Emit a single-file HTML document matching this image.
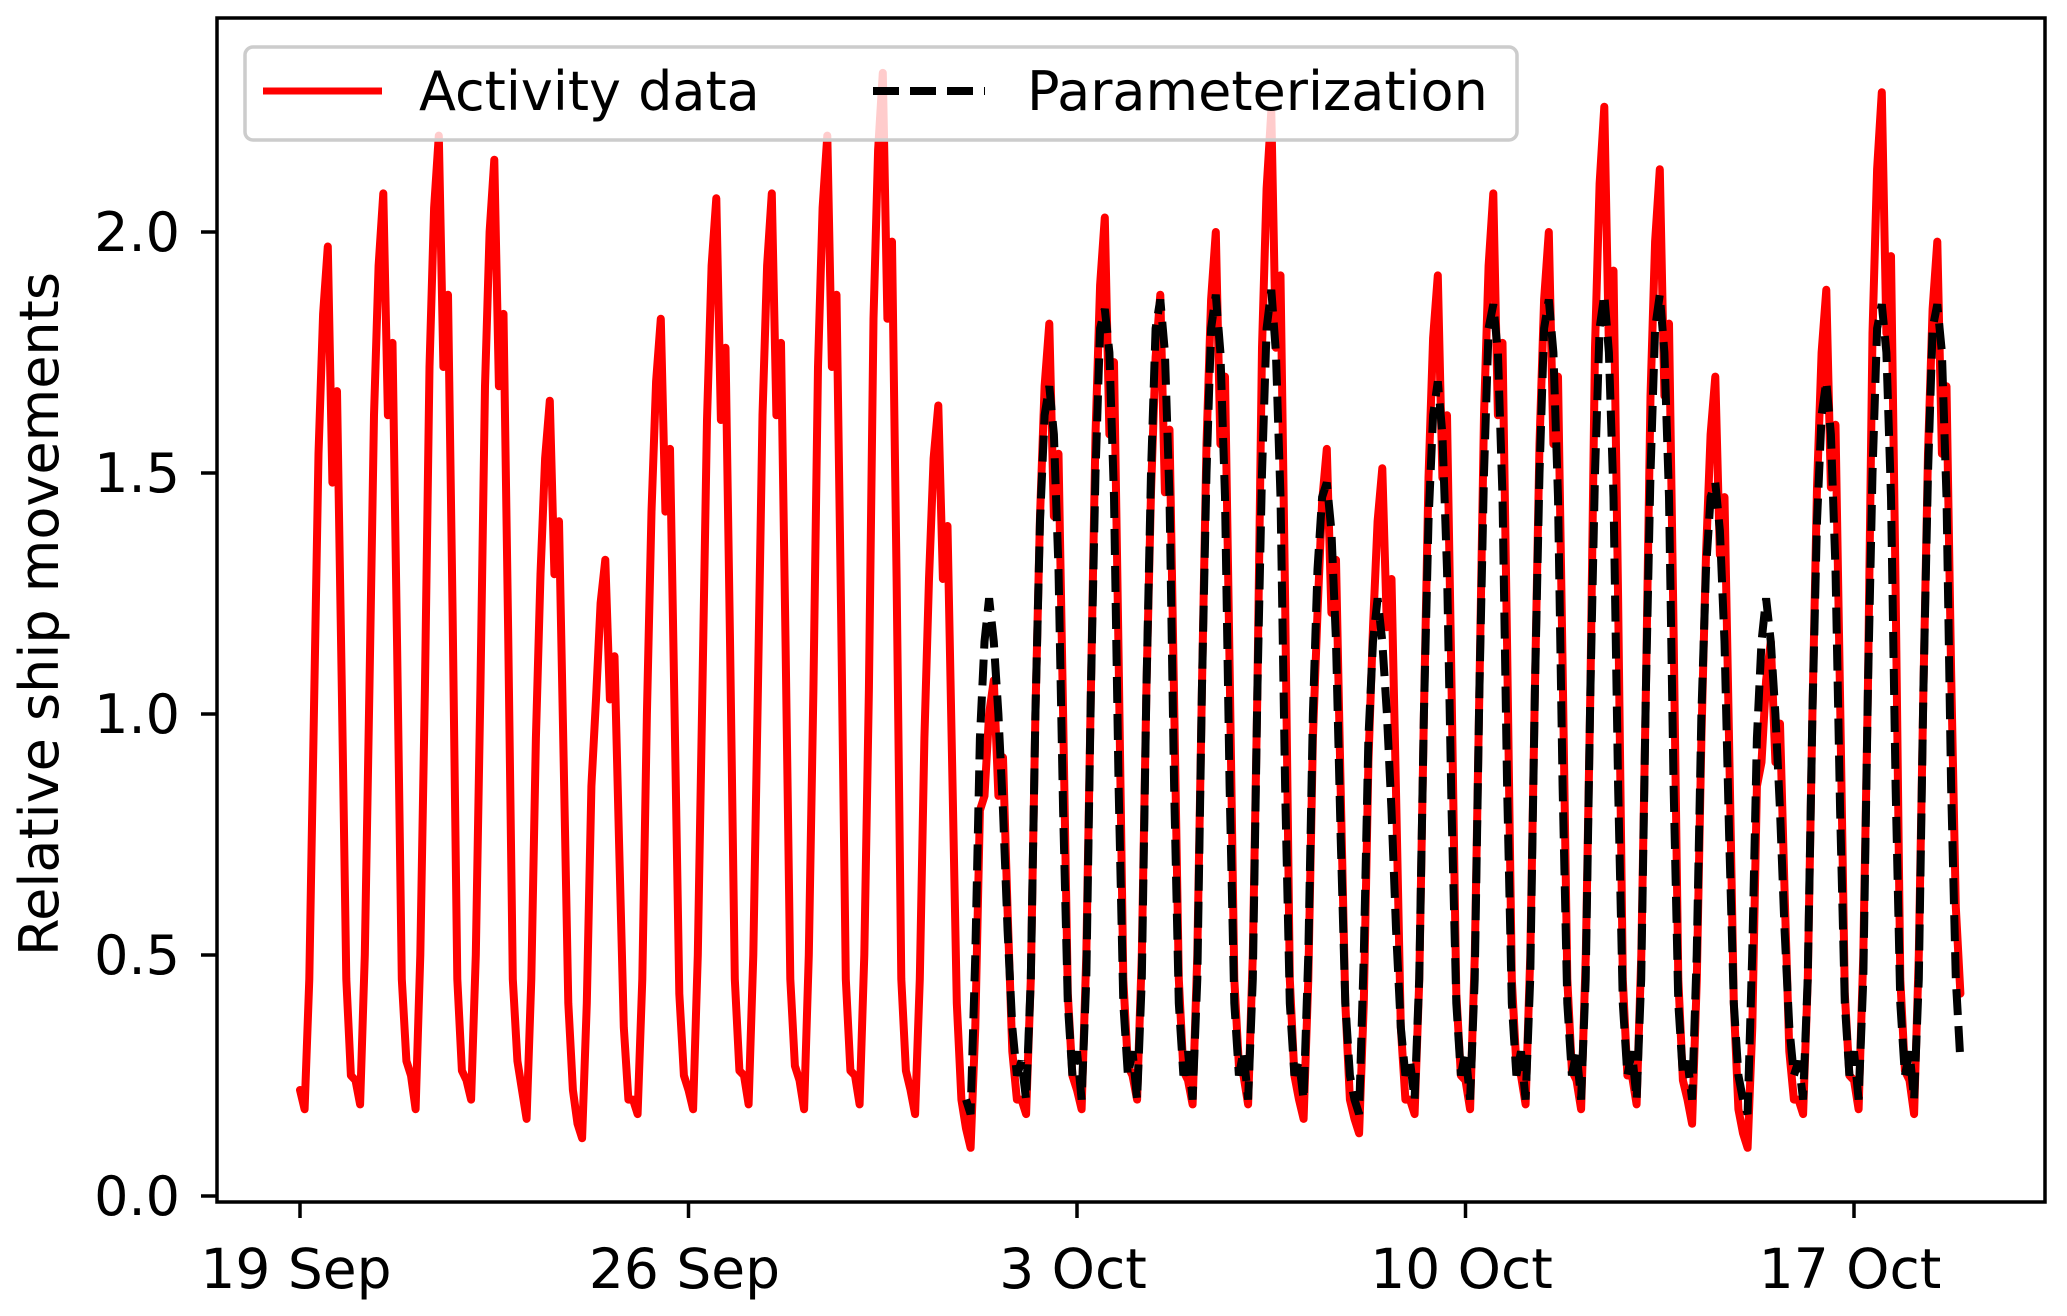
<!DOCTYPE html>
<html><head><meta charset="utf-8"><style>
html,body{margin:0;padding:0;background:#fff}
svg{display:block;font-family:"DejaVu Sans","Liberation Sans",sans-serif}
</style></head><body>
<svg id="chart" width="2067" height="1316" viewBox="0 0 2067 1316" xmlns="http://www.w3.org/2000/svg">
<g id="plot"></g>
<g id="axes"></g>
<g id="legend">
<rect x="245" y="47" width="1272" height="93" rx="8" fill="#fff" fill-opacity="0.8" stroke="#cccccc" stroke-width="3.5"/>
<line x1="263" y1="91" x2="382" y2="91" stroke="#ff0000" stroke-width="7"/>
<text x="419" y="110" font-size="54">Activity data</text>
<line x1="873" y1="91" x2="985" y2="91" stroke="#000" stroke-width="8" stroke-dasharray="26 11"/>
<text x="1027" y="110" font-size="54">Parameterization</text>
</g>
</svg>
<script>
// 2-hourly samples, starting 19 Sep 00:00
const activityData = [
0.22,0.18,0.45,1.0,1.54,1.83,1.97,1.48,1.67,1.08,0.45,0.25,
0.24,0.19,0.5,1.05,1.62,1.93,2.08,1.62,1.77,1.14,0.45,0.28,
0.25,0.18,0.5,1.05,1.72,2.05,2.2,1.72,1.87,1.21,0.45,0.26,
0.24,0.2,0.5,1.05,1.68,2.0,2.15,1.68,1.83,1.18,0.45,0.28,
0.22,0.16,0.45,0.95,1.29,1.53,1.65,1.29,1.4,0.91,0.4,0.22,
0.15,0.12,0.4,0.85,1.03,1.23,1.32,1.03,1.12,0.73,0.35,0.2,
0.2,0.17,0.45,1.0,1.42,1.69,1.82,1.42,1.55,1.0,0.42,0.25,
0.22,0.18,0.5,1.05,1.61,1.93,2.07,1.61,1.76,1.14,0.45,0.26,
0.25,0.19,0.5,1.05,1.62,1.93,2.08,1.62,1.77,1.14,0.45,0.27,
0.24,0.18,0.5,1.05,1.72,2.05,2.2,1.72,1.87,1.21,0.45,0.26,
0.25,0.19,0.5,1.05,1.82,2.17,2.33,1.82,1.98,1.28,0.45,0.26,
0.22,0.17,0.45,0.95,1.28,1.53,1.64,1.28,1.39,0.9,0.4,0.2,
0.14,0.1,0.35,0.8,0.83,1.0,1.07,0.83,0.91,0.59,0.3,0.2,
0.2,0.17,0.45,1.0,1.41,1.68,1.81,1.41,1.54,1.0,0.42,0.25,
0.22,0.18,0.5,1.05,1.58,1.89,2.03,1.58,1.73,1.12,0.45,0.27,
0.25,0.2,0.5,1.05,1.46,1.74,1.87,1.46,1.59,1.03,0.45,0.26,
0.24,0.19,0.5,1.05,1.56,1.86,2.0,1.56,1.7,1.1,0.45,0.27,
0.25,0.19,0.5,1.05,1.76,2.09,2.25,1.76,1.91,1.24,0.45,0.25,
0.2,0.16,0.45,0.95,1.21,1.44,1.55,1.21,1.32,0.85,0.4,0.2,
0.16,0.13,0.4,0.9,1.18,1.4,1.51,1.18,1.28,0.83,0.35,0.2,
0.2,0.17,0.45,1.0,1.49,1.78,1.91,1.49,1.62,1.05,0.42,0.25,
0.24,0.18,0.5,1.05,1.62,1.93,2.08,1.62,1.77,1.14,0.45,0.27,
0.25,0.19,0.5,1.05,1.56,1.86,2.0,1.56,1.7,1.1,0.45,0.26,
0.24,0.18,0.5,1.05,1.76,2.1,2.26,1.76,1.92,1.24,0.45,0.25,
0.25,0.19,0.5,1.05,1.66,1.98,2.13,1.66,1.81,1.17,0.45,0.24,
0.2,0.15,0.45,0.95,1.33,1.58,1.7,1.33,1.45,0.94,0.4,0.18,
0.13,0.1,0.35,0.85,0.9,1.07,1.15,0.9,0.98,0.63,0.3,0.2,
0.2,0.17,0.45,1.0,1.47,1.75,1.88,1.47,1.6,1.03,0.42,0.25,
0.24,0.18,0.5,1.05,1.79,2.13,2.29,1.79,1.95,1.26,0.45,0.26,
0.24,0.17,0.5,1.05,1.54,1.84,1.98,1.54,1.68,1.09,0.6,0.42
];
// parameterization starts 1 Oct 00:00 (day 12)
const paramStartDay = [12];
const paramData = [
0.2,0.17,0.5,0.95,1.15,1.24,1.15,1.0,0.8,0.55,0.35,0.25,
0.28,0.2,0.45,1.0,1.4,1.62,1.68,1.58,1.3,0.8,0.4,0.25,
0.3,0.2,0.45,1.05,1.5,1.8,1.84,1.75,1.45,0.85,0.4,0.25,
0.3,0.2,0.45,1.05,1.5,1.8,1.86,1.75,1.45,0.85,0.4,0.25,
0.3,0.2,0.45,1.05,1.5,1.8,1.87,1.75,1.45,0.85,0.4,0.25,
0.3,0.2,0.45,1.05,1.5,1.8,1.88,1.75,1.45,0.85,0.4,0.25,
0.28,0.2,0.5,1.0,1.3,1.45,1.48,1.38,1.15,0.75,0.4,0.25,
0.2,0.17,0.5,0.95,1.15,1.24,1.15,1.0,0.8,0.55,0.35,0.25,
0.28,0.2,0.45,1.0,1.4,1.62,1.69,1.58,1.3,0.8,0.4,0.25,
0.3,0.2,0.45,1.05,1.5,1.8,1.85,1.75,1.45,0.85,0.4,0.25,
0.3,0.2,0.45,1.05,1.5,1.8,1.86,1.75,1.45,0.85,0.4,0.25,
0.3,0.2,0.45,1.05,1.5,1.8,1.87,1.75,1.45,0.85,0.4,0.25,
0.3,0.2,0.45,1.05,1.5,1.8,1.87,1.75,1.45,0.85,0.4,0.25,
0.28,0.2,0.5,1.0,1.3,1.45,1.48,1.38,1.15,0.75,0.4,0.25,
0.2,0.17,0.5,0.95,1.15,1.24,1.15,1.0,0.8,0.55,0.35,0.25,
0.28,0.2,0.45,1.0,1.4,1.62,1.69,1.58,1.3,0.8,0.4,0.25,
0.3,0.2,0.45,1.05,1.5,1.8,1.85,1.75,1.45,0.85,0.4,0.25,
0.3,0.2,0.45,1.05,1.5,1.8,1.85,1.75,1.45,0.85,0.45,0.28
];
const xTickDays = [0,7,14,21,28];
const xTickLabels = ["19 Sep","26 Sep","3 Oct","10 Oct","17 Oct"];
const yTicks = [0,0.5,1.0,1.5,2.0];
const yTickLabels = ["0.0","0.5","1.0","1.5","2.0"];

const NS="http://www.w3.org/2000/svg";
const AX={l:217,r:2045,t:18,b:1202};
const x0=300, pxPerDay=388.5/7;
const y0=1196, pxPerUnit=482;
const xs=d=>x0+d*pxPerDay;
const ys=v=>y0-v*pxPerUnit;
const plot=document.getElementById('plot');
const axes=document.getElementById('axes');
function mk(tag,attrs,parent){const e=document.createElementNS(NS,tag);for(const k in attrs)e.setAttribute(k,attrs[k]);parent.appendChild(e);return e;}

const defs=mk('defs',{},plot);
const cp=mk('clipPath',{id:'clip'},defs);
mk('rect',{x:AX.l,y:AX.t,width:AX.r-AX.l,height:AX.b-AX.t},cp);

let d1='';
activityData.forEach((v,i)=>{d1+=(i?'L':'M')+xs(i/12).toFixed(1)+' '+ys(v).toFixed(1);});
const red=mk('path',{d:d1,fill:'none',stroke:'#ff0000','stroke-width':8,'stroke-linejoin':'round','stroke-linecap':'round','clip-path':'url(#clip)'},plot);



let d2='';
paramData.forEach((v,i)=>{d2+=(i?'L':'M')+xs(paramStartDay[0]+i/12).toFixed(1)+' '+ys(v).toFixed(1);});
const blk=mk('path',{d:d2,fill:'none',stroke:'#000','stroke-width':8,'stroke-dasharray':'26 11','clip-path':'url(#clip)'},plot);



const frame=mk('rect',{x:AX.l,y:AX.t,width:AX.r-AX.l,height:AX.b-AX.t,fill:'none',stroke:'#000','stroke-width':3.5},axes);



xTickDays.forEach((d,i)=>{
  const t=mk('line',{x1:xs(d),x2:xs(d),y1:AX.b,y2:AX.b+16,stroke:'#000','stroke-width':3.5},axes);
  
  
  const tx=mk('text',{x:xs(d)-4,y:1288,'font-size':55,'text-anchor':'middle'},axes);
  tx.textContent=xTickLabels[i];
  
  
});
yTicks.forEach((v,i)=>{
  const t=mk('line',{x1:AX.l-16,x2:AX.l,y1:ys(v),y2:ys(v),stroke:'#000','stroke-width':3.5},axes);
  
  
  const tx=mk('text',{x:180,y:ys(v)+19,'font-size':54,'text-anchor':'end'},axes);
  tx.textContent=yTickLabels[i];
  
  
});
const yl=mk('text',{x:0,y:0,'font-size':54,'text-anchor':'middle',transform:'translate(58,614) rotate(-90)'},axes);
yl.textContent='Relative ship movements';


</script>
</body></html>
